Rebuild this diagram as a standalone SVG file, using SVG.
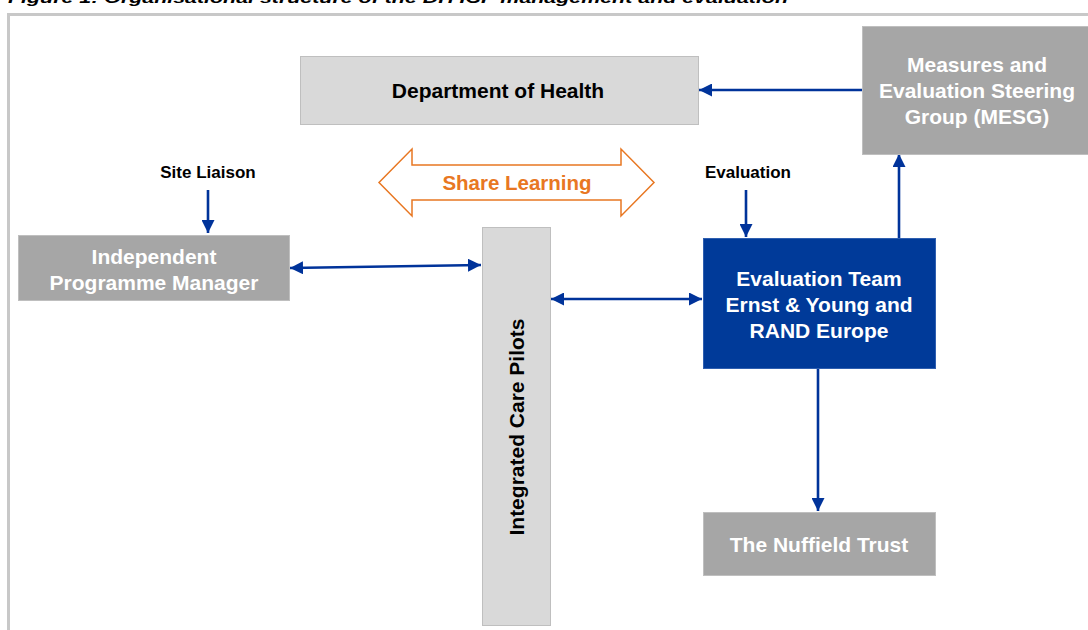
<svg xmlns="http://www.w3.org/2000/svg" width="1088" height="630" viewBox="0 0 1088 630">
  <style>
    .t { font-family: "Liberation Sans", Arial, sans-serif; font-weight: bold; text-anchor: middle; }
    .dark { fill: #000000; font-size: 21px; }
    .light { fill: #ffffff; font-size: 21px; }
    .lbl { fill: #000000; font-size: 17px; }
    .pale { fill: #d9d9d9; stroke: #bfbfbf; stroke-width: 1; }
    .grey { fill: #a6a6a6; stroke: #bfbfbf; stroke-width: 1; }
    .blue { fill: #003a99; stroke: #2f5fb0; stroke-width: 1; }
    .conn { stroke: #00339a; stroke-width: 2.6; fill: none; }
  </style>
  <defs>
    <marker id="head" viewBox="0 0 10 10" refX="10" refY="5" markerWidth="5" markerHeight="5" orient="auto-start-reverse" markerUnits="strokeWidth">
      <path d="M0,0 L10,5 L0,10 Z" fill="#00339a"/>
    </marker>
  </defs>

  <rect x="0" y="0" width="1088" height="630" fill="#ffffff"/>

  <!-- caption, clipped by the page top -->
  <text x="8" y="3" font-family="Liberation Sans, Arial, sans-serif" font-weight="bold" font-style="italic" font-size="15" fill="#000" textLength="780" lengthAdjust="spacingAndGlyphs">Figure 1: Organisational structure of the DH ICP  management and evaluation</text>

  <!-- frame -->
  <path d="M8.5,630 L8.5,14.5 L1088,14.5" fill="none" stroke="#c8c8c8" stroke-width="3"/>

  <!-- connectors -->
  <g id="connectors">
    <line class="conn" x1="862" y1="90" x2="699" y2="90" marker-end="url(#head)"/>
    <line class="conn" x1="208" y1="190" x2="208" y2="233" marker-end="url(#head)"/>
    <line class="conn" x1="290" y1="268" x2="481" y2="265" marker-start="url(#head)" marker-end="url(#head)"/>
    <line class="conn" x1="551" y1="299" x2="702" y2="299" marker-start="url(#head)" marker-end="url(#head)"/>
    <line class="conn" x1="746" y1="190" x2="746" y2="237" marker-end="url(#head)"/>
    <line class="conn" x1="899" y1="238" x2="899" y2="154" marker-end="url(#head)"/>
    <line class="conn" x1="818" y1="369" x2="818" y2="511" marker-end="url(#head)"/>
  </g>

  <g id="share-learning">
    <path d="M379,182.5 L412,149 L412,165 L621,165 L621,149 L654,182.5 L621,216 L621,200 L412,200 L412,216 Z" fill="#ffffff" stroke="#e87722" stroke-width="1.5" stroke-linejoin="miter"/>
    <text class="t" x="517" y="190" font-size="20.5" fill="#e87722">Share Learning</text>
  </g>

  <g id="department-of-health">
    <rect class="pale" x="300.5" y="56.5" width="398" height="68"/>
    <text class="t dark" x="498" y="98">Department  of Health</text>
  </g>

  <g id="mesg">
    <rect class="grey" x="862.5" y="26.5" width="227" height="128"/>
    <text class="t light" x="977" y="72">Measures and</text>
    <text class="t light" x="977" y="98">Evaluation Steering</text>
    <text class="t light" x="977" y="124">Group (MESG)</text>
  </g>

  <g id="site-liaison">
    <text class="t lbl" x="208" y="178">Site Liaison</text>
  </g>

  <g id="evaluation">
    <text class="t lbl" x="748" y="178">Evaluation</text>
  </g>

  <g id="programme-manager">
    <rect class="grey" x="18.5" y="235.5" width="271" height="65"/>
    <text class="t light" x="154" y="264">Independent</text>
    <text class="t light" x="154" y="290">Programme Manager</text>
  </g>

  <g id="integrated-care-pilots">
    <rect class="pale" x="482.5" y="227.5" width="68" height="398"/>
    <text class="t dark" transform="translate(524,427) rotate(-90)" x="0" y="0">Integrated Care Pilots</text>
  </g>

  <g id="evaluation-team">
    <rect class="blue" x="703.5" y="238.5" width="232" height="130"/>
    <text class="t light" x="819" y="286">Evaluation Team</text>
    <text class="t light" x="819" y="312">Ernst &amp; Young and</text>
    <text class="t light" x="819" y="338">RAND Europe</text>
  </g>

  <g id="nuffield-trust">
    <rect class="grey" x="703.5" y="512.5" width="232" height="63"/>
    <text class="t light" x="819" y="552">The Nuffield  Trust</text>
  </g>
</svg>
